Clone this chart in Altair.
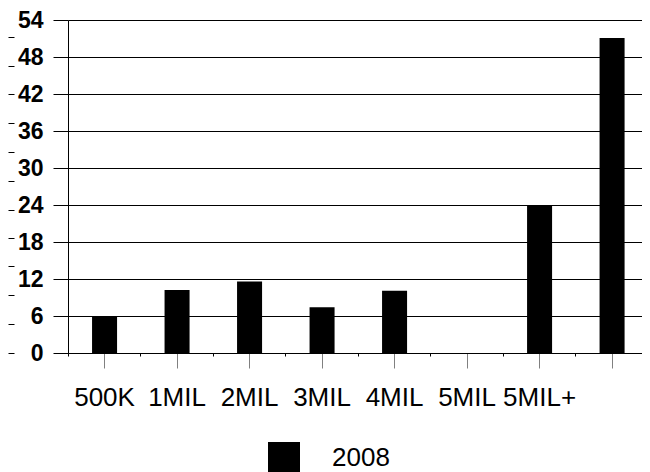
import altair as alt
import pandas as pd

# ---- data ----
categories = ["500K", "1MIL", "2MIL", "3MIL", "4MIL", "5MIL", "5MIL+", " "]
values_2008 = [6.0, 10.2, 11.6, 7.4, 10.1, 0.0, 24.0, 51.1]
series_name = "2008"
y_ticks = [0, 6, 12, 18, 24, 30, 36, 42, 48, 54]
left_minor_ticks = [0, 4.7, 9.4, 14.1, 18.7, 23.2, 27.9, 32.6, 37.3, 42.0, 46.6, 51.2, 55.9]

df = pd.DataFrame({
    "cat": categories,
    "value": values_2008,
    "series": [series_name] * len(categories),
})

FONT = "Liberation Sans"

x_scale = alt.Scale(domain=categories, paddingInner=0.655, paddingOuter=0.286, align=0.58)
y_scale = alt.Scale(domain=[0, 54], nice=False, zero=True)

bars = alt.Chart(df).mark_bar(color="#000000").encode(
    x=alt.X("cat:N", sort=categories, scale=x_scale, title=None,
            axis=alt.Axis(orient="bottom", labelAngle=0, labelFont=FONT, labelFontSize=26,
                          labelColor="#000000", labelPadding=16, tickSize=15,
                          tickColor="#808080", domainColor="#000000", grid=False)),
    y=alt.Y("value:Q", scale=y_scale, title=None,
            axis=alt.Axis(orient="left", values=y_ticks, labelFont=FONT, labelFontSize=23,
                          labelFontWeight="bold", labelColor="#000000", labelPadding=10,
                          tickSize=15, tickColor="#000000", domainColor="#000000",
                          grid=True, gridColor="#000000", gridWidth=1)),
    color=alt.Color("series:N", scale=alt.Scale(domain=[series_name], range=["#000000"]),
                    legend=alt.Legend(title=None, orient="none", legendX=200, legendY=422,
                                      symbolType="square", symbolSize=1024, symbolStrokeWidth=0,
                                      symbolOpacity=1, labelFont=FONT, labelFontSize=26,
                                      labelColor="#000000", labelOffset=32, padding=0)),
)

decor = alt.Chart(df).mark_bar(opacity=0).encode(
    x=alt.X("cat:N", sort=categories, scale=x_scale, title=None,
            axis=alt.Axis(orient="bottom", labels=False, domain=False, grid=False,
                          bandPosition=-0.95, tickSize=3, tickColor="#000000")),
    y=alt.Y("value:Q", scale=y_scale, title=None,
            axis=alt.Axis(orient="left", values=left_minor_ticks, labels=False, domain=False,
                          grid=False, offset=54, tickSize=6, tickColor="#000000")),
)

chart = alt.layer(bars, decor).resolve_axis(x="independent", y="independent").properties(
    width=574,
    height=333,
    autosize=alt.AutoSizeParams(type="none"),
    padding={"left": 60, "top": 12, "right": 0, "bottom": 130},
).configure_view(stroke="transparent")

chart.save("out.html", embed_options={"renderer": "svg", "actions": False})
